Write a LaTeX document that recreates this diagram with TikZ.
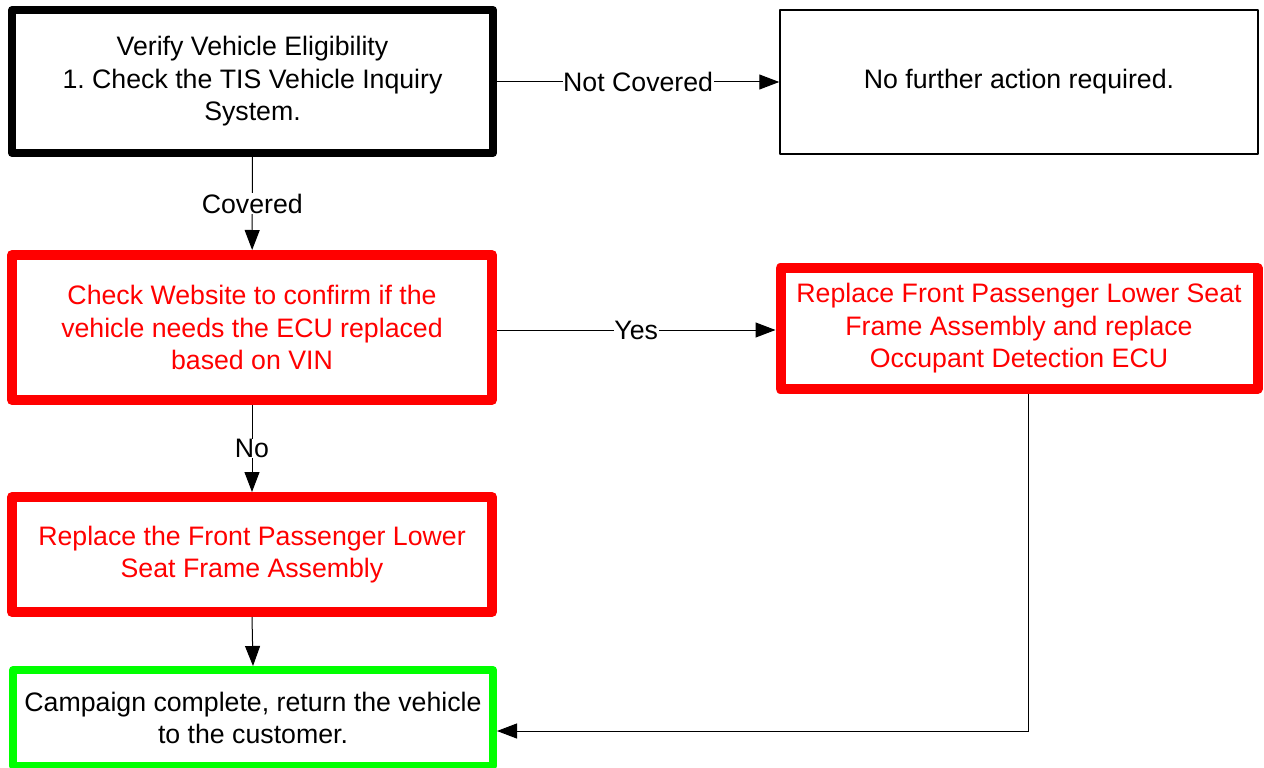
\documentclass[tikz,border=0pt]{standalone}
\usepackage{fontspec}
\setmainfont{Liberation Sans}
\usetikzlibrary{arrows.meta}
\definecolor{boxred}{RGB}{255,0,0}
\definecolor{boxgreen}{RGB}{0,255,0}

\begin{document}
\begin{tikzpicture}[x=1pt,y=-1pt,
    box/.style={draw,line join=round,align=center,inner sep=0pt,
        font=\fontsize{26.7}{32.5}\selectfont},
    redbox/.style={box,draw=boxred,text=boxred,line width=10pt},
    lbl/.style={fill=white,inner sep=0.5pt,font=\fontsize{26.7}{32.5}\selectfont},
    flow/.style={-{Triangle[length=20pt,width=15pt]},line width=1pt}]
    \useasboundingbox (0,0) rectangle (1264,768);

    % Boxes
    \node[box,line width=8pt,minimum width=481pt,minimum height=143pt] (verify) at (252.5,81.5)
        {Verify Vehicle Eligibility\\1.\ Check the TIS Vehicle Inquiry\\System.};
    \node[box,line width=1.5pt,minimum width=478pt,minimum height=144pt] (noaction) at (1019,82)
        {No further action required.};
    \node[redbox,minimum width=480pt,minimum height=145pt] (website) at (252,327.5)
        {Check Website to confirm if the\\vehicle needs the ECU replaced\\based on VIN};
    \node[redbox,minimum width=477pt,minimum height=121pt] (replaceecu) at (1019,328.5)
        {Replace Front Passenger Lower Seat\\Frame Assembly and replace\\Occupant Detection ECU};
    \node[redbox,minimum width=480pt,minimum height=115pt] (replaceseat) at (252,554.5)
        {Replace the Front Passenger Lower\\Seat Frame Assembly};
    \node[box,draw=boxgreen,line width=8pt,minimum width=480pt,minimum height=96pt] (complete) at (253,718)
        {Campaign complete, return the vehicle\\to the customer.};

    % Connectors
    \draw[flow] (verify.east |- noaction) -- node[lbl] {Not Covered} (noaction.west);
    \draw[flow] (verify) -- node[lbl] {Covered} (website);
    \coordinate (yesrow) at (0,330);
    \draw[flow] (website.east |- yesrow) -- node[lbl] {Yes} (replaceecu.west |- yesrow);
    \draw[flow] (website) -- node[lbl] {No} (replaceseat);
    \draw[flow] (replaceseat.south) -- (complete.north);
    \coordinate (turn) at (1028,731);
    \draw[flow] (replaceecu.south -| turn) -- (turn) -- (turn -| complete.east);
\end{tikzpicture}
\end{document}
